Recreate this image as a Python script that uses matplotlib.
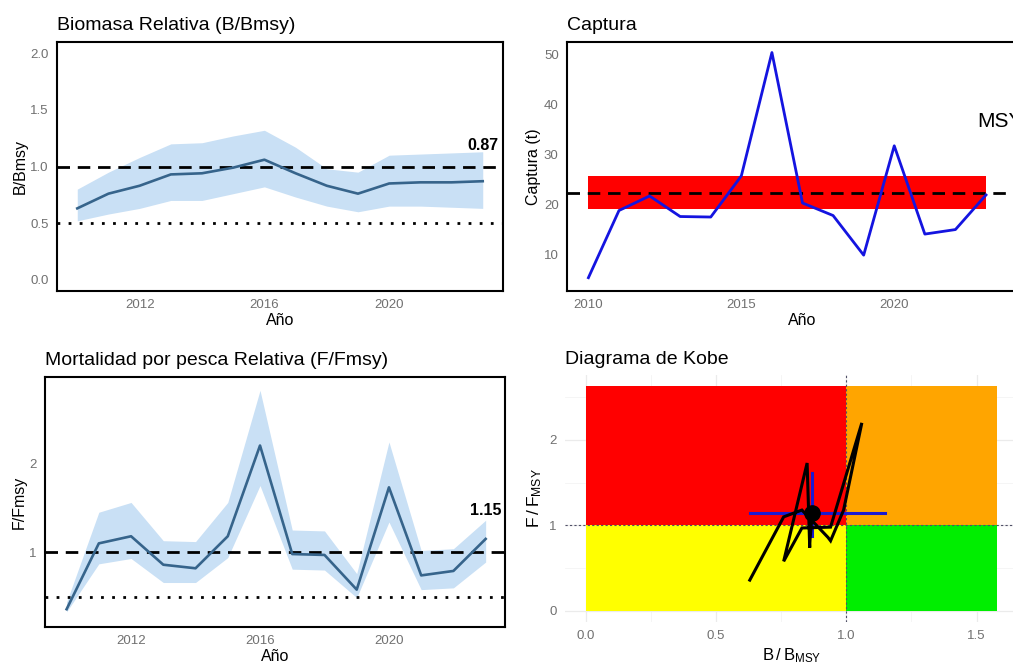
import numpy as np
import matplotlib.pyplot as plt

plt.rcParams['font.family'] = ['Liberation Sans', 'DejaVu Sans']

anios = np.arange(2010, 2024)

# B/Bmsy con intervalo
b_rel = [0.63, 0.76, 0.83, 0.93, 0.94, 0.99, 1.06, 0.94, 0.83, 0.76, 0.85, 0.86, 0.86, 0.87]
b_lo = [0.52, 0.58, 0.63, 0.70, 0.70, 0.76, 0.82, 0.73, 0.65, 0.60, 0.65, 0.65, 0.64, 0.63]
b_hi = [0.80, 0.95, 1.08, 1.20, 1.21, 1.27, 1.32, 1.17, 0.98, 0.95, 1.10, 1.11, 1.12, 1.13]

# F/Fmsy con intervalo
f_rel = [0.36, 1.10, 1.18, 0.86, 0.82, 1.18, 2.20, 0.98, 0.97, 0.58, 1.73, 0.74, 0.79, 1.15]
f_lo = [0.33, 0.87, 0.93, 0.66, 0.66, 0.94, 1.75, 0.81, 0.80, 0.49, 1.34, 0.58, 0.60, 0.89]
f_hi = [0.44, 1.45, 1.56, 1.13, 1.12, 1.56, 2.82, 1.25, 1.24, 0.76, 2.24, 1.02, 1.04, 1.36]

# captura (t)
captura = [5.4, 18.8, 21.7, 17.6, 17.5, 25.7, 50.3, 20.3, 17.8, 9.9, 31.7, 14.1, 15.0, 21.9]
msy = 22.3
msy_lo, msy_hi = 19.2, 25.6

# kobe: limites de cuadrantes y cruz del ultimo anio
kobe_xmax = 1.58
kobe_ymax = 2.63
kobe_b_ci = [0.63, 1.15]
kobe_f_ci = [0.88, 1.61]

W, H = 1013, 666
fig = plt.figure(figsize=(W / 100, H / 100), dpi=100)


def box(l, t, r, b):
    return [l / W, 1 - b / H, (r - l) / W, (b - t) / H]


TICK_C = '#707070'
LINE_C = '#36648b'
BAND_C = '#c9e0f5'


def estilo(ax, titulo, xlab, ylab):
    ax.set_title(titulo, loc='left', fontsize=14, pad=9)
    ax.set_xlabel(xlab, fontsize=11.5, labelpad=1)
    ax.set_ylabel(ylab, fontsize=11.5, labelpad=2)
    ax.tick_params(length=0, labelsize=9.5, colors=TICK_C, pad=6)
    for s in ax.spines.values():
        s.set_linewidth(1.5)


def refs(ax):
    ax.axhline(1.0, color='black', lw=2, ls=(0, (4.5, 2.8)))
    ax.axhline(0.5, color='black', lw=2, ls=(0, (1, 3)))


# Biomasa relativa
ax1 = fig.add_axes(box(57, 42, 503, 291))
ax1.fill_between(anios, b_lo, b_hi, color=BAND_C, lw=0)
refs(ax1)
ax1.plot(anios, b_rel, color=LINE_C, lw=1.9)
ax1.text(anios[-1], b_hi[-1] - 0.01, f'{b_rel[-1]:.2f}', ha='center', va='bottom',
         fontsize=11.5, fontweight='bold')
ax1.set_xlim(2009.35, 2023.65)
ax1.set_ylim(-0.1, 2.1)
ax1.set_xticks([2012, 2016, 2020])
ax1.set_yticks([0, 0.5, 1.0, 1.5, 2.0])
ax1.set_yticklabels(['0.0', '0.5', '1.0', '1.5', '2.0'])
estilo(ax1, 'Biomasa Relativa (B/Bmsy)', 'Año', 'B/Bmsy')

# Captura
ax2 = fig.add_axes(box(567, 42, 1038, 291))
ax2.fill_between([anios[0], anios[-1]], msy_lo, msy_hi, color='#ff0000', lw=0)
ax2.axhline(msy, color='black', lw=2, ls=(0, (4.5, 2.8)))
ax2.plot(anios, captura, color='#1414e0', lw=2)
ax2.text(2022.7, 36.5, 'MSY', ha='left', va='center', fontsize=15)
ax2.set_xlim(2009.3, 2024.7)
ax2.set_ylim(2.75, 52.4)
ax2.set_xticks([2010, 2015, 2020])
ax2.set_yticks([10, 20, 30, 40, 50])
estilo(ax2, 'Captura', 'Año', 'Captura (t)')

# Mortalidad por pesca relativa
ax3 = fig.add_axes(box(45, 377, 505, 627))
ax3.fill_between(anios, f_lo, f_hi, color=BAND_C, lw=0)
refs(ax3)
ax3.plot(anios, f_rel, color=LINE_C, lw=1.9)
ax3.text(anios[-1], f_hi[-1] + 0.02, f'{f_rel[-1]:.2f}', ha='center', va='bottom',
         fontsize=11.5, fontweight='bold')
ax3.set_xlim(2009.33, 2023.6)
ax3.set_ylim(0.16, 2.97)
ax3.set_xticks([2012, 2016, 2020])
ax3.set_yticks([1, 2])
estilo(ax3, 'Mortalidad por pesca Relativa (F/Fmsy)', 'Año', 'F/Fmsy')

# Diagrama de Kobe
ax4 = fig.add_axes(box(565, 375, 1019, 622))
ax4.set_xlim(-0.079, 1.663)
ax4.set_ylim(-0.13, 2.76)
ax4.set_xticks([0, 0.5, 1.0, 1.5])
ax4.set_xticklabels(['0.0', '0.5', '1.0', '1.5'])
ax4.set_yticks([0, 1, 2])
ax4.set_xticks([0.25, 0.75, 1.25], minor=True)
ax4.set_yticks([0.5, 1.5, 2.5], minor=True)
ax4.grid(True, which='major', color='#ebebeb', lw=0.9)
ax4.grid(True, which='minor', color='#f4f4f4', lw=0.6)
ax4.set_axisbelow(True)
for s in ax4.spines.values():
    s.set_visible(False)
ax4.fill_between([0, 1], 1, kobe_ymax, color='#ff0000', lw=0)
ax4.fill_between([1, kobe_xmax], 1, kobe_ymax, color='#ffa500', lw=0)
ax4.fill_between([0, 1], 0, 1, color='#ffff00', lw=0)
ax4.fill_between([1, kobe_xmax], 0, 1, color='#00ee00', lw=0)
ax4.axvline(1, color='#505068', lw=0.8, ls=(0, (2, 2)))
ax4.axhline(1, color='#505068', lw=0.8, ls=(0, (2, 2)))
ax4.plot(kobe_b_ci, [f_rel[-1]] * 2, color='#1a1ad0', lw=2.2)
ax4.plot([b_rel[-1]] * 2, kobe_f_ci, color='#1a1ad0', lw=2.2)
ax4.plot(b_rel, f_rel, color='black', lw=2.2, solid_joinstyle='miter')
ax4.plot(b_rel[-1], f_rel[-1], 'o', color='black', ms=11)
ax4.tick_params(length=0, labelsize=9.5, colors=TICK_C, pad=6, which='both')
ax4.set_title('Diagrama de Kobe', loc='left', fontsize=14, pad=8)
ax4.set_xlabel(r'$\mathregular{B\,/\,B_{MSY}}$', fontsize=12, labelpad=3)
ax4.set_ylabel(r'$\mathregular{F\,/\,F_{MSY}}$', fontsize=12.5, labelpad=4)

fig.savefig('out.png', dpi=100)
